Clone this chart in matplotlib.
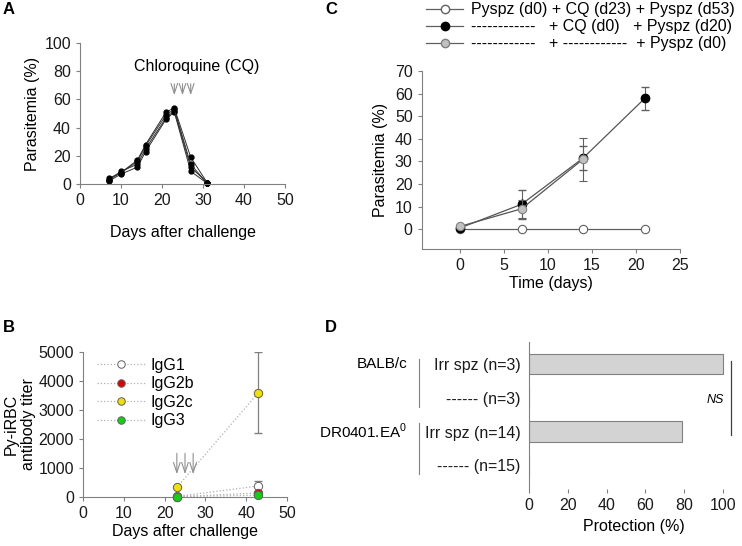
import matplotlib
matplotlib.use('Agg')
import matplotlib.pyplot as plt
from matplotlib.lines import Line2D

plt.rcParams['font.family'] = ['Liberation Sans', 'DejaVu Sans']
plt.rcParams['axes.edgecolor'] = '#808080'
plt.rcParams['xtick.color'] = '#808080'
plt.rcParams['ytick.color'] = '#808080'
plt.rcParams['xtick.labelcolor'] = '#1a1a1a'
plt.rcParams['ytick.labelcolor'] = '#1a1a1a'

# panel A - parasitemia of 4 mice
days_a = [7, 10, 14, 16, 21, 23, 27, 31]
mouse1 = [3, 8, 17, 28, 51, 54, 19, 1]
mouse2 = [2, 7, 12, 23, 46, 51, 9, 0.5]
mouse3 = [3, 9, 14, 25, 47, 52, 12, 1]
mouse4 = [4, 8, 16, 27, 49, 53, 14, 0.5]
cq_days = [23, 25, 27]

# panel B - antibody titers
days_b = [23, 43]
igg1 = [20, 380]
igg1_err = [0, 160]
igg2b = [10, 140]
igg2c = [330, 3600]
igg2c_err = [0, 1400]
igg3 = [15, 60]

# panel C - parasitemia after challenge
days_c = [0, 7, 14, 21]
group_open = [0, 0, 0, 0]
group_black = [0.5, 11, 31.5, 57.9]
group_black_err = [0, 6.4, 5.2, 5]
days_c_gray = [0, 7, 14]
group_gray = [1.2, 9, 31]
group_gray_err = [0, 4, 9.5]
legend_c = ['Pyspz (d0) + CQ (d23) + Pyspz (d53)',
            '------------   + CQ (d0)   + Pyspz (d20)',
            '------------   + ------------  + Pyspz (d0)']

# panel D - protection
bar_labels = ['Irr spz (n=3)', '------ (n=3)', 'Irr spz (n=14)', '------ (n=15)']
protection = [100, 0, 79, 0]
strains = ['BALB/c', 'DR0401.EA$^{\\mathregular{0}}$']

W, H = 742, 546
fs = 11.5

def box(l, t, r, b):
    return [l / W, 1 - b / H, (r - l) / W, (b - t) / H]

def style(ax):
    ax.spines['top'].set_visible(False)
    ax.spines['right'].set_visible(False)
    ax.tick_params(length=3, width=0.8, labelsize=fs)

def cq_arrows(ax, y0, y1):
    for d in cq_days:
        ax.annotate('', xy=(d, y0), xytext=(d, y1),
                    arrowprops=dict(arrowstyle='->,head_length=0.6,head_width=0.2',
                                    color='#909090', lw=0.8, mutation_scale=12))

fig = plt.figure(figsize=(7.42, 5.46), dpi=100)

# ---- A
axA = fig.add_axes(box(80, 43, 285, 184))
for m in [mouse1, mouse2, mouse3, mouse4]:
    axA.plot(days_a, m, color='#303030', lw=0.7, marker='o', ms=3.5,
             mfc='black', mec='black', clip_on=False)
cq_arrows(axA, 61, 73)
axA.text(28.5, 83, 'Chloroquine (CQ)', ha='center', va='center', fontsize=fs)
axA.set_xlim(0, 50)
axA.set_ylim(0, 100)
axA.set_xticks(range(0, 51, 10))
axA.set_yticks(range(0, 101, 20))
axA.set_xlabel('Days after challenge', fontsize=fs, labelpad=12)
axA.set_ylabel('Parasitemia (%)', fontsize=fs, labelpad=3)
style(axA)

# ---- B
axB = fig.add_axes(box(83, 352, 287, 497))
series_b = [('IgG1', igg1, 'white'), ('IgG2b', igg2b, '#e00000'),
            ('IgG2c', igg2c, '#f0e000'), ('IgG3', igg3, '#10d010')]
axB.errorbar(days_b, igg2c, yerr=igg2c_err, fmt='none', ecolor='#808080',
             elinewidth=0.9, capsize=3)
axB.errorbar(days_b, igg1, yerr=igg1_err, fmt='none', ecolor='#808080',
             elinewidth=0.9, capsize=3)
for name, vals, col in series_b:
    axB.plot(days_b, vals, ls=':', color='#b0b0b0', lw=0.9, marker='o', ms=6,
             mfc=col, mec='#606060', mew=0.7, label=name, clip_on=False, zorder=3)
cq_arrows(axB, 690, 1600)
axB.set_xlim(0, 50)
axB.set_ylim(0, 5000)
axB.set_xticks(range(0, 51, 10))
axB.set_yticks(range(0, 5001, 1000))
axB.set_xlabel('Days after challenge', fontsize=fs, labelpad=2)
axB.set_ylabel('Py-iRBC\nantibody titer', fontsize=fs, labelpad=2, linespacing=1.15)
axB.legend(loc='upper left', bbox_to_anchor=(0.0, 1.06), frameon=False,
           fontsize=fs, handlelength=3.0, handletextpad=0.3, labelspacing=0.22,
           markerscale=0.9)
style(axB)

# ---- C
axC = fig.add_axes(box(421.7, 71, 680, 249))
axC.plot(days_c, group_open, color='#606060', lw=0.9, marker='o', ms=6,
         mfc='white', mec='#606060', mew=0.8, clip_on=False, zorder=3)
axC.errorbar(days_c, group_black, yerr=group_black_err, color='#555555',
             lw=0.9, ecolor='#606060', elinewidth=0.8, capsize=3, marker='o', ms=6,
             mfc='black', mec='black', zorder=4)
axC.errorbar(days_c_gray, group_gray, yerr=group_gray_err, color='#555555',
             lw=0.9, ecolor='#606060', elinewidth=0.8, capsize=3, marker='o', ms=6,
             mfc='#c0c0c0', mec='#808080', mew=0.8, zorder=5)
axC.set_xlim(-4.35, 25)
axC.set_ylim(-8.8, 70)
axC.set_xticks(range(0, 26, 5))
axC.set_yticks(range(0, 71, 10))
axC.set_xlabel('Time (days)', fontsize=fs, labelpad=2)
axC.set_ylabel('Parasitemia (%)', fontsize=fs, labelpad=5)
style(axC)
handles = [Line2D([], [], color='#606060', lw=0.9, marker='o', ms=6, mfc='white', mec='#606060'),
           Line2D([], [], color='#606060', lw=0.9, marker='o', ms=6, mfc='black', mec='black'),
           Line2D([], [], color='#606060', lw=0.9, marker='o', ms=6, mfc='#c0c0c0', mec='#808080')]
fig.legend(handles, legend_c, loc='upper left', bbox_to_anchor=(420 / W, 1 - (-4) / H),
           frameon=False, fontsize=fs, handlelength=2.3, handletextpad=0.5,
           labelspacing=0.12, borderaxespad=0)

# ---- D
axD = fig.add_axes(box(529, 342, 738.5, 489))
ypos = list(range(len(protection)))
axD.barh(ypos, protection, height=0.6, color='#d3d3d3', edgecolor='#808080', lw=0.8)
axD.set_ylim(3.7, -0.65)
axD.set_xlim(0, 108)
axD.set_yticks(ypos)
axD.set_yticklabels(bar_labels, fontsize=11)
axD.set_xticks(range(0, 101, 20))
style(axD)
axD.spines['bottom'].set_visible(False)
axD.tick_params(axis='y', length=0, pad=6)
axD.set_xlabel('Protection (%)', fontsize=fs, labelpad=4)
tr = axD.get_yaxis_transform()
axD.text(-0.582, 0, strains[0], transform=tr, ha='right', va='center', fontsize=11)
axD.text(-0.582, 2, strains[1], transform=tr, ha='right', va='center', fontsize=11)
axD.plot([-0.525, -0.525], [-0.15, 1.28], transform=tr, color='#808080', lw=0.8, clip_on=False)
axD.plot([-0.525, -0.525], [1.75, 3.26], transform=tr, color='#808080', lw=0.8, clip_on=False)
axD.plot([104, 104], [-0.1, 2.1], color='#404040', lw=0.9, clip_on=False)
axD.text(96, 1.07, 'NS', ha='center', va='center', fontsize=9, style='italic')

# panel letters
for letter, x, y in [('A', 9, 9), ('B', 9, 327), ('C', 331, 9), ('D', 331, 328)]:
    fig.text(x / W, 1 - y / H, letter, ha='center', va='center',
             fontsize=12, fontweight='bold')

fig.savefig('out.png', dpi=100)
